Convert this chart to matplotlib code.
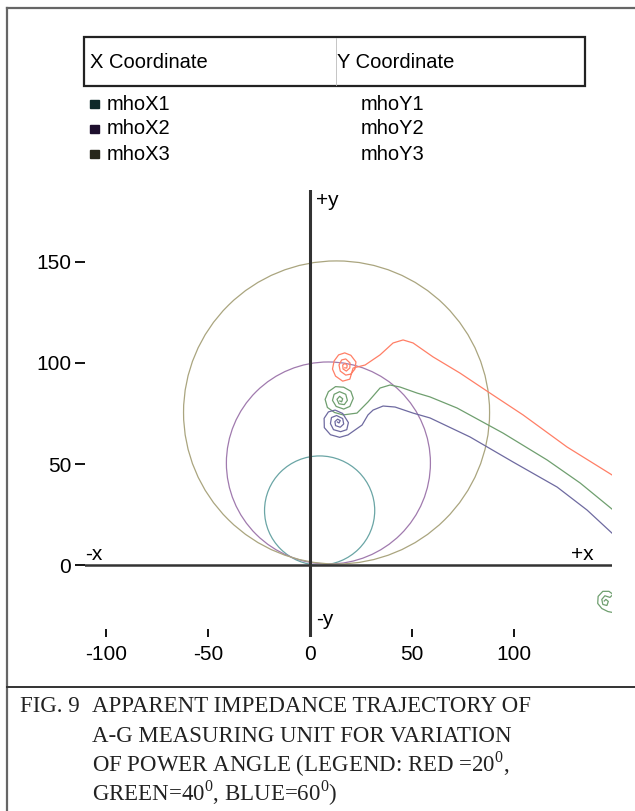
import matplotlib.pyplot as plt
from matplotlib.lines import Line2D
from matplotlib.patches import Circle, Rectangle

plt.rcParams['font.family'] = ['Liberation Sans', 'DejaVu Sans']
plt.rcParams['mathtext.fontset'] = 'custom'
plt.rcParams['mathtext.rm'] = 'Liberation Serif'

# mho circles: centre x, centre y, radius
circle_names = ["mho1", "mho2", "mho3"]
circle_cx = [4.7, 9.0, 13.0]
circle_cy = [27.0, 50.5, 75.5]
circle_r = [27.0, 50.0, 75.0]
circle_colors = ["#6aa5a5", "#a07aae", "#aaa57f"]

# apparent impedance trajectories (spiral at fault point + swing line)
red_spiral_x = [17.0, 18.0, 18.2, 17.2, 16.0, 16.2, 17.8, 19.5, 19.6, 17.5, 15.5, 14.2,
                14.8, 17.5, 20.0, 22.0, 22.5, 20.0, 17.0, 14.0, 11.8, 11.0, 12.5, 16.0,
                19.5, 21.1]
red_spiral_y = [97.6, 97.5, 98.8, 99.8, 99.0, 97.0, 96.0, 97.5, 100.0, 102.0, 101.5, 99.0,
                96.0, 94.0, 94.5, 97.0, 100.5, 103.8, 105.0, 104.0, 101.0, 97.0, 93.5, 91.0,
                92.0, 97.5]
red_line_x = [21.1, 27.0, 34.3, 40.7, 45.6, 50.5, 60.3, 73.5, 88.2, 104.4, 126.0, 148.0]
red_line_y = [97.5, 99.0, 104.0, 109.9, 111.4, 109.9, 103.0, 95.0, 85.1, 74.3, 58.4, 44.6]

green_spiral_x = [14.6, 15.5, 16.0, 14.5, 13.2, 14.2, 16.8, 18.3, 17.5, 14.5, 11.8, 11.0,
                  12.8, 16.5, 19.5, 21.2, 20.0, 16.5, 12.5, 9.0, 7.4, 8.5, 12.0, 16.2]
green_spiral_y = [81.2, 80.8, 82.3, 83.5, 82.0, 79.8, 79.4, 81.5, 84.5, 85.8, 84.5, 81.5,
                  78.5, 77.2, 78.5, 82.5, 86.0, 88.0, 88.3, 85.8, 82.0, 78.0, 75.5, 74.3]
green_line_x = [16.2, 23.0, 28.4, 34.3, 39.2, 44.1, 52.5, 58.8, 72.1, 94.6, 116.2, 132.4, 148.0]
green_line_y = [74.3, 75.2, 80.7, 87.6, 89.1, 88.1, 85.1, 83.2, 77.7, 65.3, 52.0, 40.6, 27.7]
green_far_x = [148.5, 146.0, 143.0, 141.0, 141.2, 143.5, 146.5, 148.5, 147.0, 144.5, 143.0,
               143.5, 145.5, 146.2, 145.0, 144.2]
green_far_y = [-23.5, -23.0, -21.5, -19.0, -15.5, -13.0, -13.0, -14.5, -16.0, -15.2, -17.0,
               -19.5, -20.0, -18.0, -17.0, -17.8]

blue_spiral_x = [13.4, 14.2, 14.8, 13.5, 12.2, 12.5, 14.8, 16.5, 16.0, 13.0, 10.5, 10.0,
                 11.5, 15.0, 18.0, 18.8, 16.0, 12.3, 9.0, 6.9, 7.0, 10.0, 14.5, 18.6]
blue_spiral_y = [70.8, 70.3, 71.5, 72.2, 71.0, 69.0, 68.2, 69.8, 72.5, 74.0, 73.0, 70.0,
                 67.0, 66.0, 67.0, 70.5, 75.0, 76.7, 75.8, 72.6, 68.0, 64.5, 63.2, 64.4]
blue_line_x = [18.6, 25.5, 28.4, 30.9, 35.8, 41.7, 50.5, 58.8, 78.4, 99.5, 121.1, 135.8, 148.0]
blue_line_y = [64.4, 69.3, 74.3, 76.7, 78.7, 78.2, 75.2, 72.8, 63.4, 51.0, 38.6, 27.2, 15.8]

x_ticks = [-100, -50, 0, 50, 100]
y_ticks = [0, 50, 100, 150]

legend_x = ["mhoX1", "mhoX2", "mhoX3"]
legend_y = ["mhoY1", "mhoY2", "mhoY3"]
legend_colors = ["#0f2a2a", "#1e0f2e", "#26261a"]

W, H = 635, 811
fig = plt.figure(figsize=(W / 100, H / 100), dpi=100)
ax = fig.add_axes([85 / W, 1 - 637 / H, (612 - 85) / W, (637 - 190) / H])
ax.set_xlim(-110.3, 148.0)
ax.set_ylim(-35.6, 185.6)
for s in ax.spines.values():
    s.set_visible(False)

for cx, cy, r, c in zip(circle_cx, circle_cy, circle_r, circle_colors):
    ax.add_patch(Circle((cx, cy), r, fill=False, edgecolor=c, lw=0.9))

lw = 0.9
ax.plot(red_spiral_x + red_line_x, red_spiral_y + red_line_y, color="#ff7f66", lw=lw)
ax.plot(green_spiral_x + green_line_x, green_spiral_y + green_line_y, color="#6f9f6f", lw=lw)
ax.plot(green_far_x, green_far_y, color="#6f9f6f", lw=lw)
ax.plot(blue_spiral_x + blue_line_x, blue_spiral_y + blue_line_y, color="#6e6aa0", lw=lw)

ax.axhline(0, color="#333333", lw=1.8)
ax.axvline(0, color="#333333", lw=2.2)

ax.set_xticks(x_ticks)
ax.set_xticklabels([str(v) for v in x_ticks])
ax.set_yticks(y_ticks)
ax.set_yticklabels([str(v) for v in y_ticks])
ax.tick_params(axis="x", direction="in", length=6, width=1.3, pad=6, labelsize=15)
ax.tick_params(axis="y", direction="out", length=7, width=1.3, pad=3, labelsize=15)

ax.text(3, 185, "+y", fontsize=15, va="top", ha="left")
ax.text(3, -27, "-y", fontsize=15, va="center", ha="left")
ax.text(-110, 2.5, "-x", fontsize=15, va="baseline", ha="left")
ax.text(139, 2.5, "+x", fontsize=15, va="baseline", ha="right")

# legend block
fig.add_artist(Rectangle((84 / W, 1 - 86 / H), (585 - 84) / W, (86 - 37) / H,
                         transform=fig.transFigure, fill=False, ec="#222222", lw=1.6))
fig.add_artist(Line2D([336 / W, 336 / W], [1 - 38 / H, 1 - 85 / H],
                      transform=fig.transFigure, color="#bbbbbb", lw=0.6))
fig.text(90 / W, 1 - 62 / H, "X Coordinate", fontsize=14.5, va="center", ha="left")
fig.text(337 / W, 1 - 62 / H, "Y Coordinate", fontsize=14.5, va="center", ha="left")
for i, (lx, ly, c) in enumerate(zip(legend_x, legend_y, legend_colors)):
    yy = 1 - (104 + 25 * i) / H
    fig.add_artist(Rectangle((90 / W, yy - 4 / H), 9 / W, 8 / H,
                             transform=fig.transFigure, color=c))
    fig.text(107 / W, yy, lx, fontsize=14.5, va="center", ha="left")
    fig.text(361 / W, yy, ly, fontsize=14.5, va="center", ha="left")

# frame and caption
border = "#666666"
fig.add_artist(Line2D([7 / W, 7 / W], [0, 1 - 8 / H], transform=fig.transFigure,
                      color=border, lw=1.6))
fig.add_artist(Line2D([7 / W, 1], [1 - 8 / H, 1 - 8 / H], transform=fig.transFigure,
                      color=border, lw=1.6))
fig.add_artist(Line2D([7 / W, 1], [1 - 687 / H, 1 - 687 / H], transform=fig.transFigure,
                      color="#333333", lw=1.4))

cap = dict(fontsize=16.5, family="Liberation Serif", va="baseline", ha="left", color="#222222")
fig.text(20 / W, 1 - 712 / H, "FIG. 9", **cap)
fig.text(92 / W, 1 - 712 / H, "APPARENT IMPEDANCE TRAJECTORY OF", **cap)
fig.text(92 / W, 1 - 742 / H, "A-G MEASURING UNIT FOR VARIATION", **cap)
fig.text(92 / W, 1 - 772 / H, "OF POWER ANGLE (LEGEND: RED =20$^0$,", **cap)
fig.text(92 / W, 1 - 801 / H, "GREEN=40$^0$, BLUE=60$^0$)", **cap)

fig.savefig("out.png", dpi=100)
